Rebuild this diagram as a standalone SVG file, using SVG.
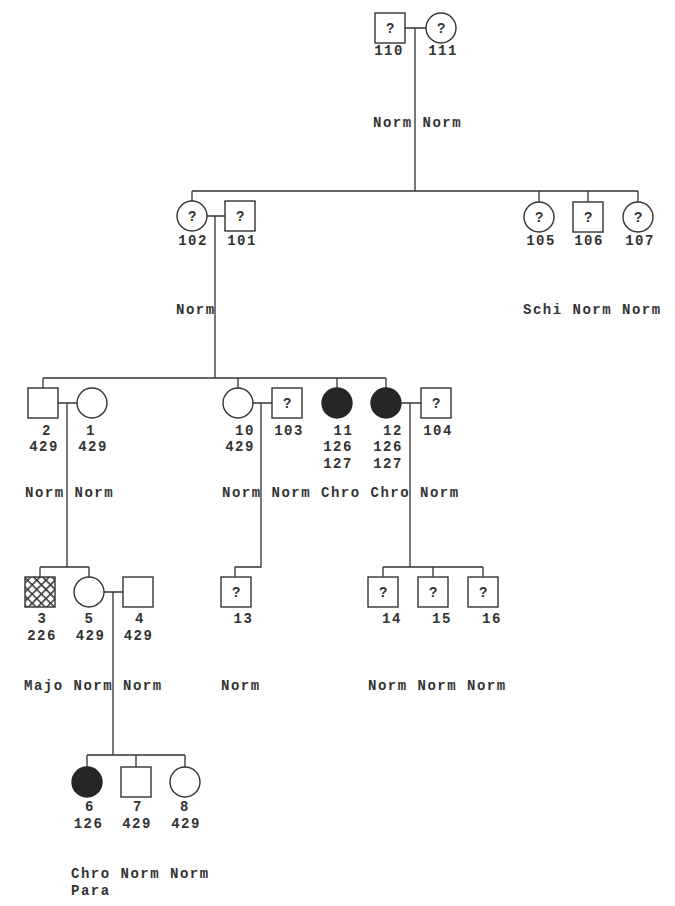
<svg xmlns="http://www.w3.org/2000/svg" width="675" height="906" viewBox="0 0 675 906">
<style>
  .s { fill: #fff; stroke: #333; stroke-width: 1.4; }
  .f { fill: #262626; stroke: #262626; stroke-width: 1.4; }
  .h { fill: url(#hatch); stroke: #333; stroke-width: 1.4; }
  .c { fill: none; stroke: #333; stroke-width: 1.3; }
  text { font-family: "Liberation Mono", "DejaVu Sans Mono", monospace; font-size: 14px; letter-spacing: 1.5px; font-weight: bold; fill: #333; }
  .m { text-anchor: middle; }
</style>
<defs>
  <pattern id="hatch" width="6.5" height="6.5" patternUnits="userSpaceOnUse" patternTransform="rotate(45)">
    <rect width="6.5" height="6.5" fill="#fff"/>
    <line x1="0" y1="0" x2="6.5" y2="0" stroke="#333" stroke-width="3"/>
    <line x1="0" y1="0" x2="0" y2="6.5" stroke="#333" stroke-width="3"/>
  </pattern>
</defs>
<rect width="675" height="906" fill="#fff"/>
<g id="connectors">
  <path class="c" d="M405 28 H426 M415 28 V191 M192 191 H638 M192 191 V201 M539 191 V202 M588 191 V202 M638 191 V202"/>
  <path class="c" d="M207 216 H225 M215 216 V378 M43 378 H386 M43 378 V388 M238 378 V388 M337 378 V388 M386 378 V388"/>
  <path class="c" d="M58 403 H77 M67 403 V567 M40 567 H89 M40 567 V577 M89 567 V577"/>
  <path class="c" d="M253 403 H272 M261 403 V567 H235 V577"/>
  <path class="c" d="M401 403 H421 M410 403 V567 M383 567 H483 M383 567 V577 M433 567 V577 M483 567 V577"/>
  <path class="c" d="M104 592 H123 M113 592 V755 M87 755 H185 M87 755 V767 M136 755 V767 M185 755 V767"/>
</g>
<g id="n110"><rect class="s" x="375" y="13" width="30" height="30"/><text class="m" x="391" y="33">?</text><text class="m" x="389" y="55">110</text></g>
<g id="n111"><circle class="s" cx="441" cy="28" r="15"/><text class="m" x="442" y="33">?</text><text class="m" x="443" y="55">111</text></g>
<text x="373" y="127">Norm Norm</text>

<g id="n102"><circle class="s" cx="192" cy="216" r="15"/><text class="m" x="193" y="221">?</text><text class="m" x="193" y="245">102</text></g>
<g id="n101"><rect class="s" x="225" y="201" width="30" height="30"/><text class="m" x="241" y="221">?</text><text class="m" x="242" y="245">101</text></g>
<g id="n105"><circle class="s" cx="539" cy="217" r="15"/><text class="m" x="540" y="222">?</text><text class="m" x="541" y="245">105</text></g>
<g id="n106"><rect class="s" x="573" y="202" width="30" height="30"/><text class="m" x="589" y="222">?</text><text class="m" x="589" y="245">106</text></g>
<g id="n107"><circle class="s" cx="638" cy="217" r="15"/><text class="m" x="639" y="222">?</text><text class="m" x="640" y="245">107</text></g>
<text x="176" y="314">Norm</text>
<text x="523" y="314">Schi Norm Norm</text>

<g id="n2"><rect class="s" x="28" y="388" width="30" height="30"/><text class="m" x="47" y="435">2</text><text class="m" x="44" y="451">429</text></g>
<g id="n1"><circle class="s" cx="92" cy="403" r="15"/><text class="m" x="91" y="435">1</text><text class="m" x="93" y="451">429</text></g>
<g id="n10"><circle class="s" cx="238" cy="403" r="15"/><text class="m" x="245" y="435">10</text><text class="m" x="240" y="451">429</text></g>
<g id="n103"><rect class="s" x="272" y="388" width="30" height="30"/><text class="m" x="288" y="408">?</text><text class="m" x="289" y="435">103</text></g>
<g id="n11"><circle class="f" cx="337" cy="403" r="15"/><text class="m" x="343.5" y="435">11</text><text class="m" x="338" y="451">126</text><text class="m" x="338" y="468">127</text></g>
<g id="n12"><circle class="f" cx="386" cy="403" r="15"/><text class="m" x="393" y="435">12</text><text class="m" x="388" y="451">126</text><text class="m" x="388" y="468">127</text></g>
<g id="n104"><rect class="s" x="421" y="388" width="30" height="30"/><text class="m" x="437" y="408">?</text><text class="m" x="438" y="435">104</text></g>
<text x="25" y="497">Norm Norm</text>
<text x="222" y="497">Norm Norm Chro Chro Norm</text>

<g id="n3"><rect class="h" x="25" y="577" width="30" height="30"/><text class="m" x="42.5" y="623">3</text><text class="m" x="42" y="640">226</text></g>
<g id="n5"><circle class="s" cx="89" cy="592" r="15"/><text class="m" x="89.5" y="623">5</text><text class="m" x="90.5" y="640">429</text></g>
<g id="n4"><rect class="s" x="123" y="577" width="30" height="30"/><text class="m" x="140" y="623">4</text><text class="m" x="138.5" y="640">429</text></g>
<g id="n13"><rect class="s" x="221" y="577" width="30" height="30"/><text class="m" x="237" y="597">?</text><text class="m" x="243.5" y="623">13</text></g>
<g id="n14"><rect class="s" x="368" y="577" width="30" height="30"/><text class="m" x="384" y="597">?</text><text class="m" x="392" y="623">14</text></g>
<g id="n15"><rect class="s" x="418" y="577" width="30" height="30"/><text class="m" x="434" y="597">?</text><text class="m" x="442" y="623">15</text></g>
<g id="n16"><rect class="s" x="468" y="577" width="30" height="30"/><text class="m" x="484" y="597">?</text><text class="m" x="492" y="623">16</text></g>
<text x="24" y="690">Majo Norm Norm</text>
<text x="221" y="690">Norm</text>
<text x="368" y="690">Norm Norm Norm</text>

<g id="n6"><circle class="f" cx="87" cy="782" r="15"/><text class="m" x="90" y="811">6</text><text class="m" x="88.5" y="828">126</text></g>
<g id="n7"><rect class="s" x="121" y="767" width="30" height="30"/><text class="m" x="138" y="811">7</text><text class="m" x="137" y="828">429</text></g>
<g id="n8"><circle class="s" cx="185" cy="782" r="15"/><text class="m" x="185" y="811">8</text><text class="m" x="186" y="828">429</text></g>
<text x="71" y="878">Chro Norm Norm</text>
<text x="71" y="895">Para</text>
</svg>
